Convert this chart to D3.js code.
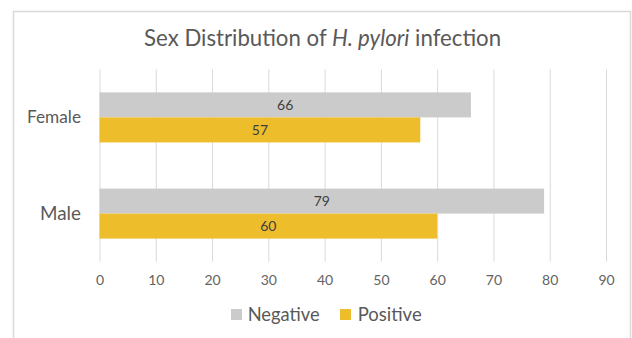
<!DOCTYPE html>
<html>
<head>
<meta charset="utf-8">
<script src="https://cdn.jsdelivr.net/npm/d3@7"></script>
<style>
  html, body { margin: 0; padding: 0; background: #fff; }
  svg { display: block; }
  text { font-family: Lato, "Open Sans", sans-serif; }
</style>
</head>
<body>
<svg id="chart" width="632" height="338"></svg>
<script>
// ---- data ----
const categories = ["Female", "Male"];
const seriesNames = ["Negative", "Positive"];
const negativeValues = [66, 79];
const positiveValues = [57, 60];
const xTicks = [0, 10, 20, 30, 40, 50, 60, 70, 80, 90];
const titleParts = [
  { text: "Sex Distribution of ", italic: false },
  { text: "H. pylori", italic: true },
  { text: " infection", italic: false }
];

const colors = { Negative: "#cbcbcb", Positive: "#eebd2c" };
const svg = d3.select("#chart");

// fit font size of a text element to a target width
function fit(sel, target) {
  const node = sel.node();
  const w = node.getComputedTextLength();
  const fs = parseFloat(sel.attr("font-size"));
  if (w > 0) sel.attr("font-size", (fs * target / w).toFixed(2));
}

// outer border
svg.append("rect")
  .attr("x", 13.5).attr("y", 11.5)
  .attr("width", 617).attr("height", 340)
  .attr("fill", "#fff")
  .attr("stroke", "#d9d9d9").attr("stroke-width", 1.5);

// scales
const x = d3.scaleLinear().domain([0, 90]).range([99.5, 606]);
const plotTop = 69.3, plotBottom = 261.7;
const y = d3.scaleBand().domain(categories).range([plotTop, plotBottom])
  .paddingInner(0.48).paddingOuter(0.24);
const ySub = d3.scaleBand().domain(seriesNames).range([0, y.bandwidth()]).padding(0);

// gridlines via axis
const gridAxis = d3.axisBottom(x).tickValues(xTicks).tickSize(-(plotBottom - plotTop)).tickFormat("");
const grid = svg.append("g").attr("transform", `translate(0,${plotBottom})`).call(gridAxis);
grid.select(".domain").remove();
grid.selectAll("line").attr("stroke", "#d9d9d9").attr("stroke-width", 1);

// tick labels via axis
const labelAxis = d3.axisBottom(x).tickValues(xTicks).tickSize(0).tickPadding(0).tickFormat(d3.format("d"));
const lab = svg.append("g").attr("transform", `translate(0,280)`).call(labelAxis);
lab.select(".domain").remove();
lab.selectAll("text")
  .attr("font-family", "Lato, 'Open Sans', sans-serif")
  .attr("font-size", 14)
  .attr("fill", "#636363")
  .attr("dy", "0.35em");

// bars
const rows = categories.map((c, i) => ({
  cat: c,
  vals: [
    { s: "Negative", v: negativeValues[i] },
    { s: "Positive", v: positiveValues[i] }
  ]
}));

const groups = svg.append("g").selectAll("g").data(rows).join("g")
  .attr("transform", d => `translate(0,${y(d.cat)})`);

groups.selectAll("rect").data(d => d.vals).join("rect")
  .attr("x", x(0))
  .attr("y", d => ySub(d.s))
  .attr("width", d => x(d.v) - x(0))
  .attr("height", ySub.bandwidth())
  .attr("fill", d => colors[d.s]);

groups.selectAll("text").data(d => d.vals).join("text")
  .attr("x", d => (x(0) + x(d.v)) / 2)
  .attr("y", d => ySub(d.s) + ySub.bandwidth() / 2)
  .attr("dy", "0.35em")
  .attr("text-anchor", "middle")
  .attr("font-size", 14)
  .attr("fill", "#404040")
  .text(d => d.v);

// category labels
const catAxis = d3.axisLeft(y).tickSize(0).tickPadding(0);
const cat = svg.append("g").attr("transform", "translate(81,0)").call(catAxis);
cat.select(".domain").remove();
cat.selectAll("text")
  .attr("font-family", "Lato, 'Open Sans', sans-serif")
  .attr("font-size", 16)
  .attr("fill", "#595959")
  .attr("dy", "0.35em");
cat.selectAll("text").each(function(d) {
  fit(d3.select(this), d === "Female" ? 54 : 41);
});

// title
const title = svg.append("text")
  .attr("x", 322.6).attr("y", 46)
  .attr("text-anchor", "middle")
  .attr("font-size", 20)
  .attr("fill", "#595959");
title.selectAll("tspan").data(titleParts).join("tspan")
  .attr("font-style", d => d.italic ? "italic" : "normal")
  .text(d => d.text);
fit(title, 357);

// legend
const legendPos = [
  { s: "Negative", sx: 231, tx: 247.7, w: 72 },
  { s: "Positive", sx: 340, tx: 357.7, w: 64 }
];
const lg = svg.append("g");
lg.selectAll("rect").data(legendPos).join("rect")
  .attr("x", d => d.sx).attr("y", 309)
  .attr("width", 11).attr("height", 11)
  .attr("fill", d => colors[d.s]);
lg.selectAll("text").data(legendPos).join("text")
  .attr("x", d => d.tx).attr("y", 315)
  .attr("dy", "0.35em")
  .attr("font-size", 17)
  .attr("fill", "#595959")
  .text(d => d.s)
  .each(function(d) { fit(d3.select(this), d.w); });
</script>
</body>
</html>
